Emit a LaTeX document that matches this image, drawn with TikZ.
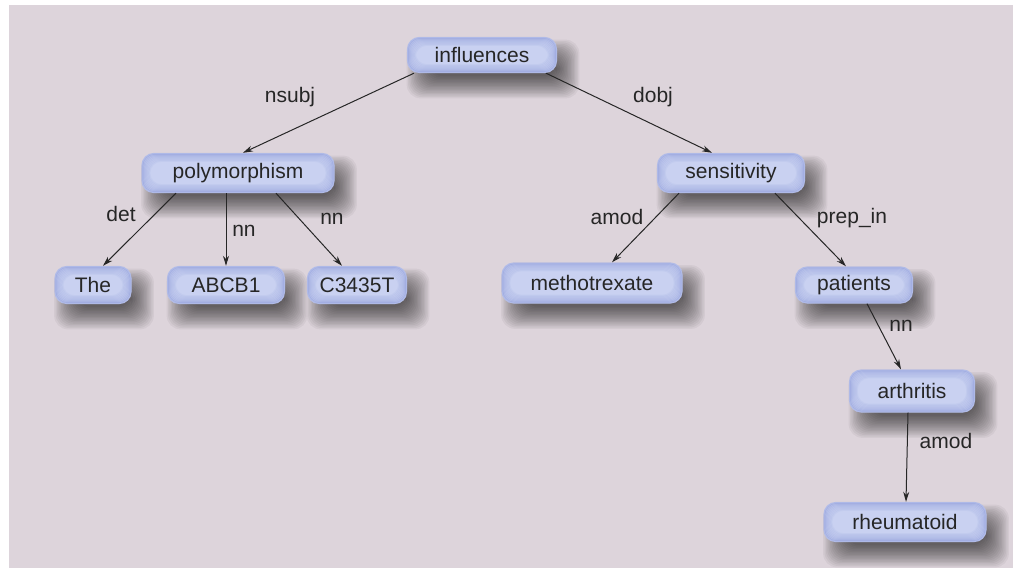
\documentclass[tikz,border=0pt]{standalone}
\usepackage{fontspec}
\setmainfont{Liberation Sans}
\usetikzlibrary{arrows.meta}
\pgfdeclarelayer{background}
\pgfsetlayers{background,main}
\definecolor{bg}{HTML}{DDD4DB}
\definecolor{nfill}{HTML}{C9D1F1}
\definecolor{nedge}{HTML}{7283D0}
\definecolor{txt}{HTML}{262626}
\newcommand{\rimdraw}[1]{%
  \foreach \i/\o in {7/0.07,6/0.08,5/0.09,4/0.11,3/0.13,2/0.16,1/0.2,0/0.28} {
    \draw[rounded corners=12pt, draw=nedge, line width=2pt, draw opacity=\o]
      ([xshift=1pt+\i*1pt, yshift=1pt+\i*1pt]#1.south west) rectangle
      ([xshift=-1pt-\i*1pt, yshift=-1pt-\i*1pt]#1.north east);
  }}
\newcommand{\softshadow}[1]{%
  \foreach \k in {-8,...,8} {
    \fill[black, fill opacity=0.042, rounded corners=14pt]
      ([xshift=11pt-\k*1.4pt, yshift=-14pt-\k*1.4pt]#1.south west) rectangle
      ([xshift=11pt+\k*1.4pt, yshift=-14pt+\k*1.4pt]#1.north east);
  }}
\tikzset{
  word/.style={rounded corners=12pt, fill=nfill, text=txt, inner sep=0pt,
    font=\fontsize{21}{25}\selectfont},
  lbl/.style={text=txt, inner sep=0pt, font=\fontsize{21}{25}\selectfont},
  dep/.style={draw=txt, line width=1pt, -{Stealth[length=10pt,width=6pt]}}
}
\begin{document}
\begin{tikzpicture}[x=1pt,y=-1pt]
\useasboundingbox (0,0) rectangle (1013,568);

\node[word, minimum width=150pt, minimum height=36pt] (infl) at (482,55) {influences};
\node[word, minimum width=193pt, minimum height=40pt] (poly) at (238,173) {polymorphism};
\node[word, minimum width=77pt, minimum height=38pt] (the) at (93,285) {The};
\node[word, minimum width=118pt, minimum height=38pt] (abcb) at (226,285) {ABCB1};
\node[word, minimum width=100pt, minimum height=38pt] (c34) at (357,285) {C3435T};
\node[word, minimum width=148pt, minimum height=40pt] (sens) at (731,173) {sensitivity};
\node[word, minimum width=181pt, minimum height=41pt] (meth) at (592,283) {methotrexate};
\node[word, minimum width=118pt, minimum height=37pt] (pat) at (854,285) {patients};
\node[word, minimum width=126pt, minimum height=43pt] (arth) at (912,391) {arthritis};
\node[word, minimum width=163pt, minimum height=40pt] (rheu) at (905,522) {rheumatoid};

\foreach \n in {infl,poly,the,abcb,c34,sens,meth,pat,arth,rheu} {\rimdraw{\n}}

\begin{pgfonlayer}{background}
\fill[bg] (9,5) rectangle (1013,568);
\foreach \n in {infl,poly,the,abcb,c34,sens,meth,pat,arth,rheu} {\softshadow{\n}}
\end{pgfonlayer}

\draw[dep] ([xshift=-68pt]infl.south) -- ([xshift=5pt]poly.north);
\draw[dep] ([xshift=64pt]infl.south) -- ([xshift=-19pt]sens.north);
\draw[dep] ([xshift=-62pt]poly.south) -- ([xshift=10pt]the.north);
\draw[dep] ([xshift=-12pt]poly.south) -- ([xshift=0pt]abcb.north);
\draw[dep] ([xshift=38pt]poly.south) -- ([xshift=-15pt]c34.north);
\draw[dep] ([xshift=-52pt]sens.south) -- ([xshift=20pt]meth.north);
\draw[dep] ([xshift=44pt]sens.south) -- ([xshift=-8pt]pat.north);
\draw[dep] ([xshift=13pt]pat.south) -- ([xshift=-11pt]arth.north);
\draw[dep] ([xshift=-4pt]arth.south) -- ([xshift=1pt]rheu.north);

\node[lbl] (l1) at (290,97) {nsubj};
\node[lbl] (l2) at (653,97) {dobj};
\node[lbl] (l3) at (121,214) {det};
\node[lbl] (l4) at (244,231) {nn};
\node[lbl] (l5) at (332,219) {nn};
\node[lbl] (l6) at (617,217) {amod};
\node[lbl] (l7) at (852,218) {prep\_in};
\node[lbl] (l8) at (901,326) {nn};
\node[lbl] (l9) at (946,441) {amod};
\end{tikzpicture}
\end{document}
